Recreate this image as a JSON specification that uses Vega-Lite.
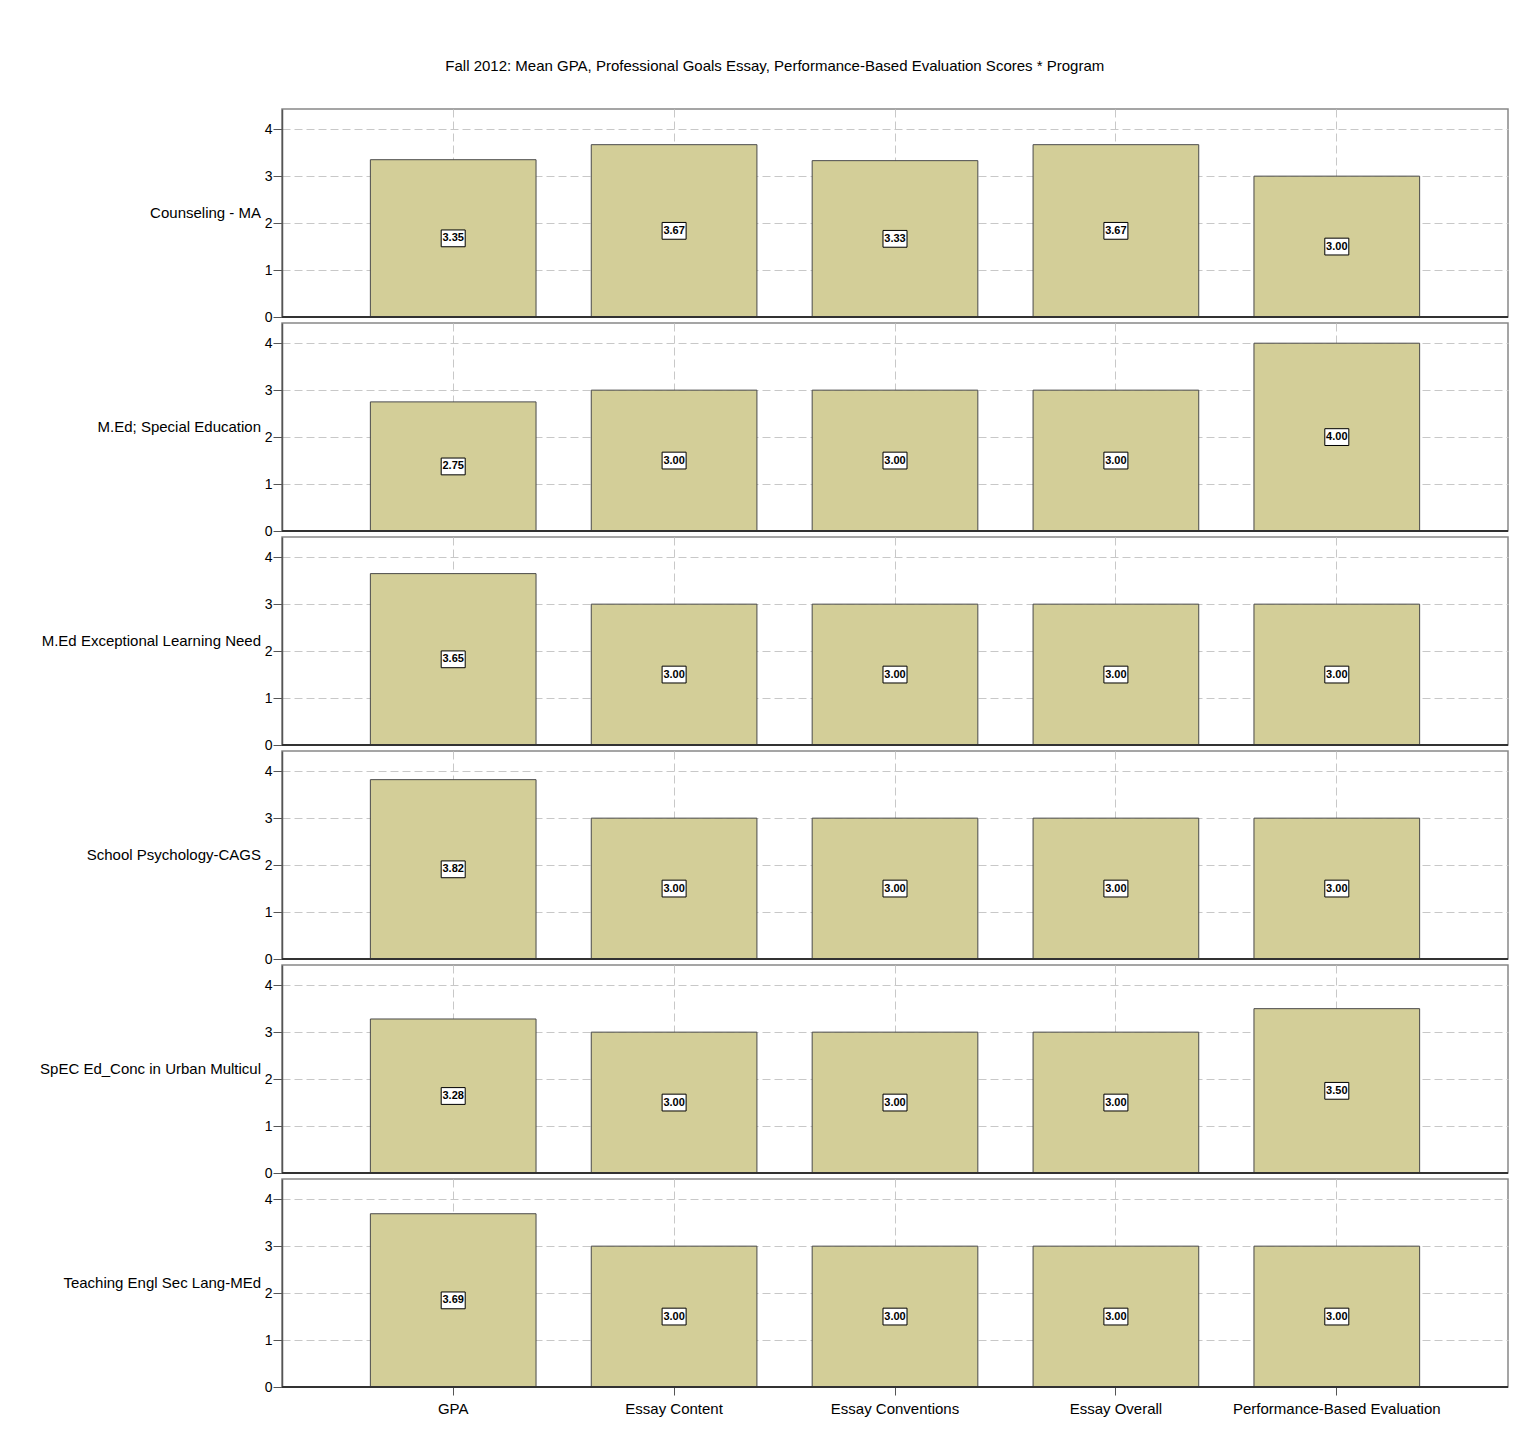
{
  "$schema": "https://vega.github.io/schema/vega-lite/v6.json",
  "padding": {"left": 40, "top": 59, "right": 10, "bottom": 10},
  "background": "white",
  "config": {"font": "Liberation Sans", "view": {"stroke": "#888888", "strokeWidth": 1.5}},
  "title": {"text": "Fall 2012: Mean GPA, Professional Goals Essay, Performance-Based Evaluation Scores * Program", "fontSize": 15, "fontWeight": "normal", "color": "black", "offset": 34, "anchor": "middle"},
  "data": {"values": [
    {"program": "Counseling - MA", "measure": "GPA", "value": 3.35},
    {"program": "Counseling - MA", "measure": "Essay Content", "value": 3.67},
    {"program": "Counseling - MA", "measure": "Essay Conventions", "value": 3.33},
    {"program": "Counseling - MA", "measure": "Essay Overall", "value": 3.67},
    {"program": "Counseling - MA", "measure": "Performance-Based Evaluation", "value": 3.00},
    {"program": "M.Ed; Special Education", "measure": "GPA", "value": 2.75},
    {"program": "M.Ed; Special Education", "measure": "Essay Content", "value": 3.00},
    {"program": "M.Ed; Special Education", "measure": "Essay Conventions", "value": 3.00},
    {"program": "M.Ed; Special Education", "measure": "Essay Overall", "value": 3.00},
    {"program": "M.Ed; Special Education", "measure": "Performance-Based Evaluation", "value": 4.00},
    {"program": "M.Ed Exceptional Learning Need", "measure": "GPA", "value": 3.65},
    {"program": "M.Ed Exceptional Learning Need", "measure": "Essay Content", "value": 3.00},
    {"program": "M.Ed Exceptional Learning Need", "measure": "Essay Conventions", "value": 3.00},
    {"program": "M.Ed Exceptional Learning Need", "measure": "Essay Overall", "value": 3.00},
    {"program": "M.Ed Exceptional Learning Need", "measure": "Performance-Based Evaluation", "value": 3.00},
    {"program": "School Psychology-CAGS", "measure": "GPA", "value": 3.82},
    {"program": "School Psychology-CAGS", "measure": "Essay Content", "value": 3.00},
    {"program": "School Psychology-CAGS", "measure": "Essay Conventions", "value": 3.00},
    {"program": "School Psychology-CAGS", "measure": "Essay Overall", "value": 3.00},
    {"program": "School Psychology-CAGS", "measure": "Performance-Based Evaluation", "value": 3.00},
    {"program": "SpEC Ed_Conc in Urban Multicul", "measure": "GPA", "value": 3.28},
    {"program": "SpEC Ed_Conc in Urban Multicul", "measure": "Essay Content", "value": 3.00},
    {"program": "SpEC Ed_Conc in Urban Multicul", "measure": "Essay Conventions", "value": 3.00},
    {"program": "SpEC Ed_Conc in Urban Multicul", "measure": "Essay Overall", "value": 3.00},
    {"program": "SpEC Ed_Conc in Urban Multicul", "measure": "Performance-Based Evaluation", "value": 3.50},
    {"program": "Teaching Engl Sec Lang-MEd", "measure": "GPA", "value": 3.69},
    {"program": "Teaching Engl Sec Lang-MEd", "measure": "Essay Content", "value": 3.00},
    {"program": "Teaching Engl Sec Lang-MEd", "measure": "Essay Conventions", "value": 3.00},
    {"program": "Teaching Engl Sec Lang-MEd", "measure": "Essay Overall", "value": 3.00},
    {"program": "Teaching Engl Sec Lang-MEd", "measure": "Performance-Based Evaluation", "value": 3.00}
  ]},
  "facet": {
    "row": {
      "field": "program", "type": "nominal", "title": null,
      "sort": ["Counseling - MA", "M.Ed; Special Education", "M.Ed Exceptional Learning Need", "School Psychology-CAGS", "SpEC Ed_Conc in Urban Multicul", "Teaching Engl Sec Lang-MEd"],
      "header": {"labelAngle": 0, "labelAlign": "left", "labelPadding": 21, "labelFontSize": 15, "labelColor": "black", "labelFont": "Liberation Sans", "labelLimit": 0}
    }
  },
  "spacing": {"row": 6},
  "bounds": "flush",
  "resolve": {"scale": {"y": "independent"}},
  "spec": {
    "width": 1226,
    "height": 208,
    "encoding": {
      "x": {"field": "measure", "type": "nominal",
        "sort": ["GPA", "Essay Content", "Essay Conventions", "Essay Overall", "Performance-Based Evaluation"],
        "scale": {"paddingInner": 0.25, "paddingOuter": 0.4},
        "axis": {"title": null, "labelAngle": 0, "labelFontSize": 15, "labelColor": "black", "labelPadding": 6, "labelLimit": 0, "tickSize": 8, "tickColor": "#555555", "domain": false, "grid": true, "gridColor": "#c8c8c8", "gridDash": [8, 4], "gridWidth": 1}}
    },
    "layer": [
      {
        "mark": {"type": "bar", "fill": "#D3CE98", "stroke": "#4a4a4a", "strokeWidth": 1},
        "encoding": {
          "y": {"field": "value", "type": "quantitative",
            "scale": {"domain": [0, 4.43], "nice": false, "zero": true},
            "axis": {"title": null, "values": [0, 1, 2, 3, 4], "labelFontSize": 14, "labelColor": "black", "labelPadding": 1, "tickSize": 9, "tickColor": "#555555", "domainColor": "#555555", "domainWidth": 1.5, "grid": true, "gridColor": "#c8c8c8", "gridDash": [8, 4], "gridWidth": 1}}
        }
      },
      {
        "mark": {"type": "rule", "color": "#333333", "strokeWidth": 1.5},
        "encoding": {"x": null, "y": {"datum": 0, "type": "quantitative", "scale": {"domain": [0, 4.43], "nice": false}, "axis": null}}
      },
      {
        "mark": {"type": "point", "shape": "M-1,-0.7L1,-0.7L1,0.7L-1,0.7Z", "size": 576, "filled": true, "fill": "white", "stroke": "black", "strokeWidth": 1, "opacity": 1},
        "encoding": {
          "y": {"field": "value", "type": "quantitative", "scale": {"domain": [0, 8.86], "nice": false}, "axis": null}
        }
      },
      {
        "mark": {"type": "text", "font": "Liberation Sans Narrow, Liberation Sans", "fontWeight": "bold", "fontSize": 11, "color": "black", "baseline": "middle", "align": "center"},
        "encoding": {
          "y": {"field": "value", "type": "quantitative", "scale": {"domain": [0, 8.86], "nice": false}, "axis": null},
          "text": {"field": "value", "type": "quantitative", "format": ".2f"}
        }
      }
    ],
    "resolve": {"scale": {"y": "independent"}}
  }
}
